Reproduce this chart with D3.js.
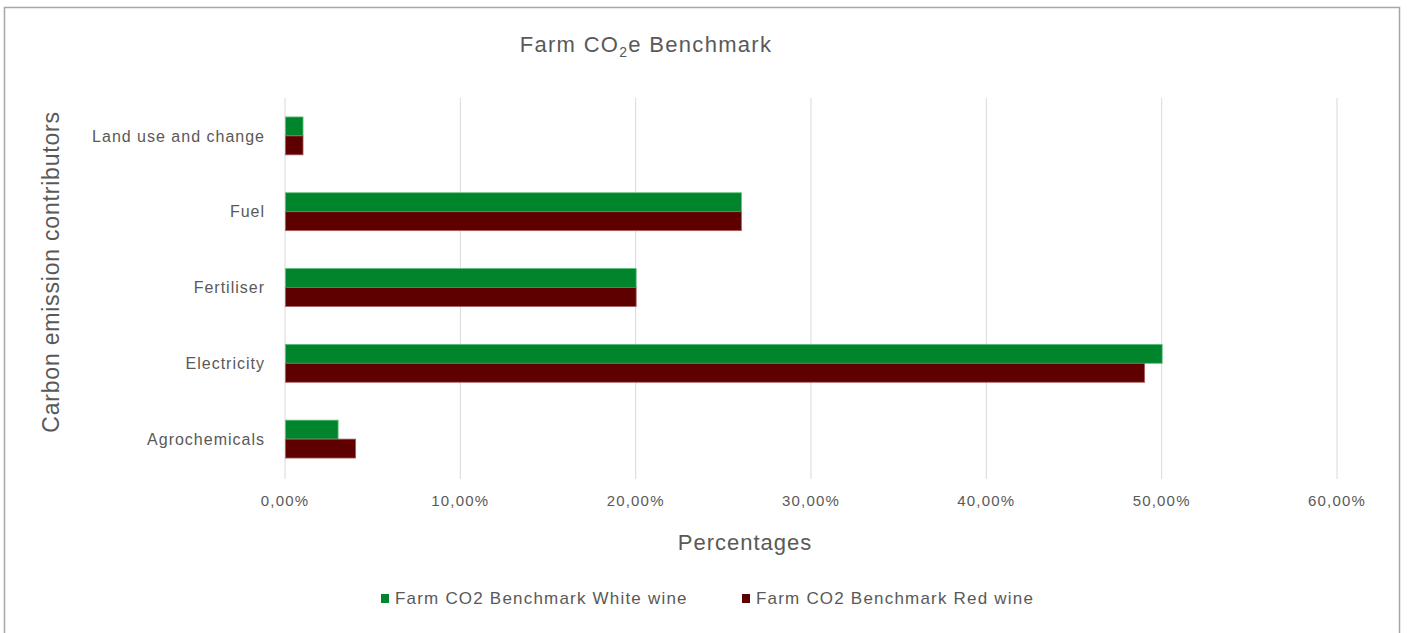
<!DOCTYPE html>
<html>
<head>
<meta charset="utf-8">
<script src="https://cdn.jsdelivr.net/npm/d3@7"></script>
<style>
  body { margin: 0; background: #fff; }
  text { font-family: "Liberation Sans", Arial, sans-serif; fill: #595959; }
</style>
</head>
<body>
<svg id="chart" width="1407" height="633"></svg>
<script>
// data
var categories = ["Land use and change", "Fuel", "Fertiliser", "Electricity", "Agrochemicals"];
var whiteWine = [1, 26, 20, 50, 3];
var redWine = [1, 26, 20, 49, 4];
var seriesNames = ["Farm CO2 Benchmark White wine", "Farm CO2 Benchmark Red wine"];
var xTicks = [0, 10, 20, 30, 40, 50, 60];

var colors = ["#00842c", "#5e0000"];
var strokes = ["#5fbf7a", "#a86060"];

var svg = d3.select("#chart");

// outer frame
svg.append("rect")
    .attr("x", 4.5).attr("y", 7.5)
    .attr("width", 1395).attr("height", 640)
    .attr("fill", "none")
    .attr("stroke", "#a6a6a6")
    .attr("stroke-width", 1.5);

var plotLeft = 285, plotRight = 1337, plotTop = 98, plotBottom = 477;

var x = d3.scaleLinear().domain([0, 60]).range([plotLeft, plotRight]);
var y = d3.scaleBand().domain(categories).range([plotTop, plotBottom]).paddingInner(0.5).paddingOuter(0.25);

// gridlines
svg.append("g").selectAll("line")
    .data(xTicks)
    .enter().append("line")
    .attr("x1", function(d) { return x(d); })
    .attr("x2", function(d) { return x(d); })
    .attr("y1", plotTop)
    .attr("y2", plotBottom + 2)
    .attr("stroke", "#d9d9d9")
    .attr("stroke-width", 1);

// x tick labels
var fmt = function(d) { return d.toFixed(2).replace(".", ",") + "%"; };
svg.append("g").selectAll("text")
    .data(xTicks)
    .enter().append("text")
    .attr("x", function(d) { return x(d); })
    .attr("y", 506)
    .attr("text-anchor", "middle")
    .style("font-size", "15px")
    .style("letter-spacing", "1.2px")
    .text(fmt);

// y category labels
svg.append("g").selectAll("text")
    .data(categories)
    .enter().append("text")
    .attr("x", 265)
    .attr("y", function(d) { return y(d) + y.bandwidth() / 2; })
    .attr("dy", "0.35em")
    .attr("text-anchor", "end")
    .style("font-size", "16px")
    .style("letter-spacing", "1px")
    .text(function(d) { return d; });

// bars
var series = [whiteWine, redWine];
var barH = y.bandwidth() / 2;
series.forEach(function(vals, s) {
    svg.append("g").selectAll("rect")
        .data(vals)
        .enter().append("rect")
        .attr("x", x(0) + 0.5)
        .attr("y", function(d, i) { return y(categories[i]) + s * barH; })
        .attr("width", function(d) { return x(d) - x(0); })
        .attr("height", barH)
        .attr("fill", colors[s])
        .attr("stroke", strokes[s])
        .attr("stroke-width", 0.8);
});

// title
var title = svg.append("text")
    .attr("x", 646).attr("y", 52)
    .attr("text-anchor", "middle")
    .style("font-size", "22px")
    .style("letter-spacing", "1.3px");
title.append("tspan").text("Farm CO");
title.append("tspan").attr("dy", 5).style("font-size", "14px").text("2");
title.append("tspan").attr("dy", -5).text("e Benchmark");

// axis titles
svg.append("text")
    .attr("x", 745).attr("y", 550)
    .attr("text-anchor", "middle")
    .style("font-size", "22px")
    .style("letter-spacing", "1px")
    .text("Percentages");

svg.append("text")
    .attr("transform", "translate(59,272) rotate(-90)")
    .attr("text-anchor", "middle")
    .style("font-size", "23px")
    .style("letter-spacing", "0.8px")
    .text("Carbon emission contributors");

// legend
var legX = [381, 742];
var leg = svg.append("g").selectAll("g")
    .data(seriesNames)
    .enter().append("g")
    .attr("transform", function(d, i) { return "translate(" + legX[i] + ",594)"; });
leg.append("rect")
    .attr("width", 8).attr("height", 9)
    .attr("fill", function(d, i) { return colors[i]; });
leg.append("text")
    .attr("x", 14).attr("y", 4.5)
    .attr("dy", "0.35em")
    .style("font-size", "17px")
    .style("letter-spacing", "1.2px")
    .text(function(d) { return d; });
</script>
</body>
</html>
